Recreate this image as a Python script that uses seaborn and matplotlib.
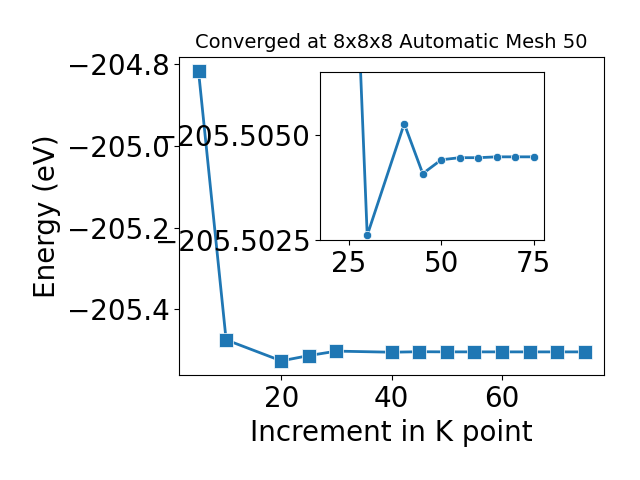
import seaborn as sns
import matplotlib.pyplot as plt
import pandas as pd

# k-point increments and total energies (eV)
kpoints = [5, 10, 20, 25, 30, 40, 45, 50, 55, 60, 65, 70, 75]
energy = [-204.8165, -205.4750, -205.5265, -205.5135, -205.50261, -205.50527,
          -205.50408, -205.50441, -205.50446, -205.50446, -205.50448,
          -205.50448, -205.50448]

inset_start = 20
inset_ylim = (-205.5025, -205.5065)
inset_yticks = [-205.5050, -205.5025]
inset_xticks = [25, 50, 75]

df = pd.DataFrame({"k": kpoints, "E": energy})
df_inset = df[df["k"] >= inset_start]

fig = plt.figure(figsize=(6.4, 4.8), dpi=100)
ax = fig.add_axes([0.280, 0.218, 0.664, 0.664])
sns.lineplot(data=df, x="k", y="E", marker="s", markersize=10, linewidth=2,
             color="#1f77b4", markeredgewidth=0.5, ax=ax)
ax.set_xlabel("Increment in K point", fontsize=20)
ax.set_ylabel("Energy (eV)", fontsize=20)
ax.set_title("Converged at 8x8x8 Automatic Mesh 50", fontsize=14)
ax.tick_params(labelsize=20)

ins = fig.add_axes([0.5, 0.5, 0.35, 0.35])
sns.lineplot(data=df_inset, x="k", y="E", marker="o", markersize=6, linewidth=2,
             color="#1f77b4", markeredgewidth=0.5, ax=ins)
ins.set_ylim(*inset_ylim)
ins.set_yticks(inset_yticks)
ins.set_xticks(inset_xticks)
ins.ticklabel_format(axis="y", useOffset=False)
ins.set_xlabel("")
ins.set_ylabel("")
ins.tick_params(labelsize=20)

fig.savefig("out.png", dpi=100)
